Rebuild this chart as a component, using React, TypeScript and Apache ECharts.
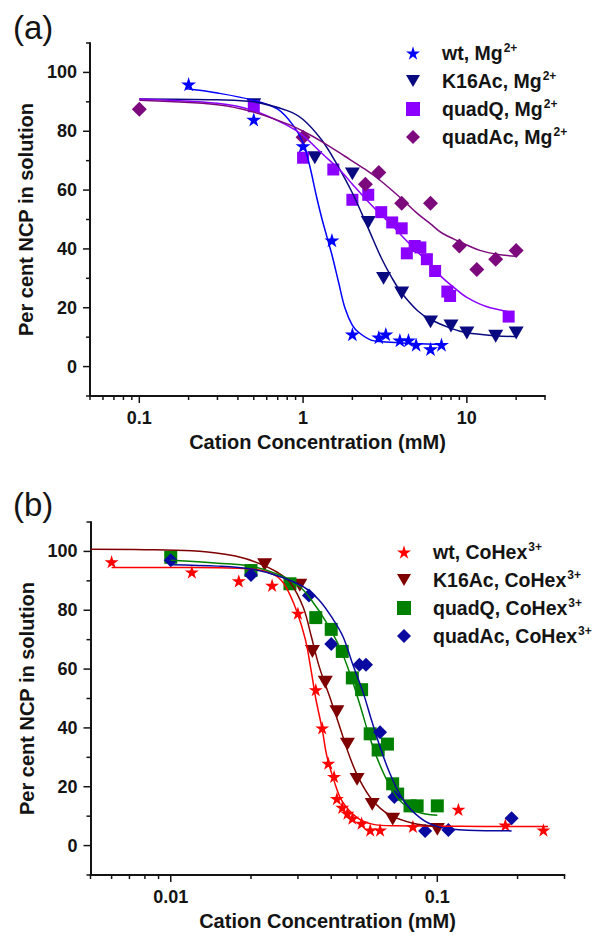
import React, { useEffect, useRef } from 'react';
import * as echarts from 'echarts';

// ---------- Panel (a): Mg2+ ----------
const wtMgX = [0.2, 0.5, 1.0, 1.5, 2.0, 2.9, 3.2, 3.9, 4.4, 4.9, 6.0, 7.0];
const wtMgY = [96, 84, 75, 43, 11, 10, 11, 9, 9, 7.5, 6, 7.5];
const k16MgX = [0.5, 1.18, 2.0, 2.5, 3.1, 4.0, 6.0, 8.0, 10, 15, 20];
const k16MgY = [89, 71, 65.5, 49, 30, 25, 15.2, 13.8, 11.4, 10.3, 11.4];
const quadQMgX = [0.5, 1.0, 1.53, 2.0, 2.5, 3.0, 3.5, 4.0, 4.3, 4.8, 5.2, 5.7, 6.4, 7.6, 7.9, 18];
const quadQMgY = [88.5, 71, 67, 56.7, 58.4, 52.5, 49, 47, 38.5, 41, 40.5, 36.5, 32.5, 25.5, 24, 17];
const quadAcMgX = [0.1, 1.0, 2.4, 2.9, 4.0, 6.0, 9.0, 11.5, 15, 20];
const quadAcMgY = [87.5, 78, 62, 66, 55.5, 55.5, 41, 33, 36.5, 39.5];

const wtMgCurveX = [0.19, 0.3, 0.5, 0.7, 0.87, 1.0, 1.1, 1.2, 1.3, 1.4, 1.5, 1.65, 1.8, 2.0, 2.2, 2.6, 3.0, 4.0, 5.0, 7.0];
const wtMgCurveY = [94.5, 93, 90.5, 87.5, 82, 76, 68, 58.5, 50.5, 44, 38, 28.5, 20, 14, 11.5, 9, 8.5, 8, 7.8, 7.5];
const k16MgCurveX = [0.1, 0.3, 0.5, 0.8, 1.0, 1.3, 1.6, 2.0, 2.5, 3.0, 3.5, 4.0, 5.0, 6.0, 8.0, 10, 15, 20];
const k16MgCurveY = [91, 90.7, 90, 87, 84, 77, 69, 59, 47, 37, 30, 25, 19, 16, 13, 11.5, 10.5, 10.2];
const quadQMgCurveX = [0.1, 0.3, 0.5, 0.8, 1.0, 1.3, 1.7, 2.0, 2.5, 3.0, 3.5, 4.0, 5.0, 6.0, 7.0, 8.5, 10, 13, 18.5];
const quadQMgCurveY = [91, 89.5, 87, 82, 78.5, 72.5, 66.5, 62, 56, 51.5, 48, 44.5, 39, 34.5, 30.5, 26.5, 23.5, 20.5, 18.5];
const quadAcMgCurveX = [0.1, 0.3, 0.5, 0.8, 1.0, 1.3, 1.8, 2.4, 3.0, 4.0, 5.0, 6.0, 7.0, 9.0, 12, 16, 20];
const quadAcMgCurveY = [90.5, 89, 86.5, 82.5, 80, 76.5, 71.5, 67, 63, 57, 52, 48.5, 45.5, 42.5, 39.5, 38, 37.5];

// ---------- Panel (b): CoHex3+ ----------
const wtCoX = [0.006, 0.012, 0.018, 0.024, 0.030, 0.035, 0.037, 0.039, 0.041, 0.042, 0.044, 0.046, 0.048, 0.052, 0.056, 0.061, 0.081, 0.12, 0.18, 0.25];
const wtCoY = [96.5, 93, 90, 88.5, 79, 53, 40, 28, 23.5, 16, 13, 11, 9.3, 7.6, 5.3, 5.3, 6.5, 12.3, 7, 5.3];
const k16CoX = [0.0225, 0.0305, 0.034, 0.038, 0.042, 0.046, 0.050, 0.057, 0.068, 0.10];
const k16CoY = [95.5, 88.5, 66, 55.5, 45.5, 34.5, 22.5, 14, 9, 5.5];
const quadQCoX = [0.01, 0.02, 0.028, 0.035, 0.040, 0.044, 0.048, 0.052, 0.056, 0.060, 0.065, 0.068, 0.071, 0.079, 0.084, 0.10];
const quadQCoY = [98, 93.5, 89, 77.5, 73.5, 66, 57, 53, 38, 32.5, 34.5, 21, 17.5, 13.5, 13.5, 13.5];
const quadAcCoX = [0.01, 0.02, 0.033, 0.040, 0.051, 0.054, 0.061, 0.069, 0.09, 0.11, 0.19];
const quadAcCoY = [97, 92, 85, 68.5, 61.5, 61.5, 38.5, 16.5, 5, 5.3, 9.3];

const wtCoCurveX = [0.006, 0.012, 0.018, 0.022, 0.025, 0.027, 0.0296, 0.032, 0.0337, 0.035, 0.037, 0.0385, 0.041, 0.044, 0.050, 0.057, 0.07, 0.1, 0.15, 0.26];
const wtCoCurveY = [94.5, 94.5, 94.3, 93.5, 91.5, 88, 80, 70, 59, 50, 39.5, 30.5, 22, 15, 9.5, 7.3, 6.7, 6.6, 6.5, 6.5];
const k16CoCurveX = [0.005, 0.008, 0.012, 0.016, 0.019, 0.022, 0.025, 0.028, 0.0314, 0.0337, 0.036, 0.0395, 0.043, 0.047, 0.051, 0.057, 0.066, 0.081, 0.1];
const k16CoCurveY = [100.7, 100.6, 100.2, 99, 97.6, 95.5, 93, 89.5, 81, 71, 61, 50.5, 40.5, 30, 22.5, 15.5, 10.5, 7.6, 6.5];
const quadQCoCurveX = [0.01, 0.015, 0.02, 0.0256, 0.0305, 0.034, 0.038, 0.043, 0.047, 0.051, 0.055, 0.059, 0.0645, 0.072, 0.084, 0.1];
const quadQCoCurveY = [97, 96, 95, 92, 88, 83, 76.5, 67.5, 58.5, 48.5, 38.5, 30.5, 22.5, 15.5, 11.5, 10.3];
const quadAcCoCurveX = [0.01, 0.015, 0.02, 0.0256, 0.0314, 0.036, 0.0406, 0.0443, 0.048, 0.0527, 0.0567, 0.061, 0.0664, 0.0745, 0.086, 0.1, 0.13, 0.19];
const quadAcCoCurveY = [95.5, 95, 94, 91.5, 88, 83.5, 77, 71, 62, 52, 42.5, 33.5, 24.5, 15.5, 9.5, 6.5, 5.2, 5];

// ---------- Axis ticks ----------
const xMajorA = [0.1, 1, 10];
const xMinorA = [0.05, 0.06, 0.07, 0.08, 0.09, 0.2, 0.3, 0.4, 0.5, 0.6, 0.7, 0.8, 0.9, 2, 3, 4, 5, 6, 7, 8, 9, 20, 30];
const xMajorB = [0.01, 0.1];
const xMinorB = [0.005, 0.006, 0.007, 0.008, 0.009, 0.02, 0.03, 0.04, 0.05, 0.06, 0.07, 0.08, 0.09, 0.2, 0.3];
const yMajor = [0, 20, 40, 60, 80, 100];
const yMinor = [-10, 10, 30, 50, 70, 90, 110];

const legendNamesA = ['wt, Mg2+', 'K16Ac, Mg2+', 'quadQ, Mg2+', 'quadAc, Mg2+'];
const legendNamesB = ['wt, CoHex3+', 'K16Ac, CoHex3+', 'quadQ, CoHex3+', 'quadAc, CoHex3+'];

const STAR = 'path://M50,0 L61,35 L98,35 L68,57 L79,91 L50,70 L21,91 L32,57 L2,35 L39,35 Z';
const TRI_DOWN = 'path://M0,0 L100,0 L50,86 Z';
const TXT = '#141414';
const FONT = '"Liberation Sans", Arial, Helvetica, sans-serif';

const zip = (xs: number[], ys: number[]) => xs.map((x, i) => [x, ys[i]]);

function scatter(name: string, idx: number, xs: number[], ys: number[], symbol: string, size: number | number[], color: string) {
  return {
    name,
    type: 'scatter',
    xAxisIndex: idx,
    yAxisIndex: idx,
    data: zip(xs, ys),
    symbol,
    symbolSize: size,
    symbolKeepAspect: true,
    itemStyle: { color, opacity: 1 },
    z: 3,
  };
}

function curve(idx: number, xs: number[], ys: number[], color: string) {
  return {
    type: 'line',
    xAxisIndex: idx,
    yAxisIndex: idx,
    data: zip(xs, ys),
    smooth: 0.35,
    showSymbol: false,
    symbol: 'none',
    lineStyle: { color, width: 1.5 },
    silent: true,
    z: 4,
  };
}

function ticks(idx: number, xMaj: number[], xMin: number[], xLo: number) {
  const data = [
    ...xMaj.map((v) => [v, -10, 0, 1]),
    ...xMin.map((v) => [v, -10, 0, 0]),
    ...yMajor.map((v) => [xLo, v, 1, 1]),
    ...yMinor.map((v) => [xLo, v, 1, 0]),
  ];
  return {
    type: 'custom',
    xAxisIndex: idx,
    yAxisIndex: idx,
    silent: true,
    clip: false,
    z: 6,
    data,
    encode: { x: 0, y: 1 },
    renderItem: (_p: any, api: any) => {
      const pt = api.coord([api.value(0), api.value(1)]);
      const isY = api.value(2) === 1;
      const len = api.value(3) === 1 ? 7 : 4;
      return {
        type: 'line',
        shape: isY
          ? { x1: pt[0] - len, y1: pt[1], x2: pt[0], y2: pt[1] }
          : { x1: pt[0], y1: pt[1], x2: pt[0], y2: pt[1] + len },
        style: { stroke: TXT, lineWidth: 1.5 },
      };
    },
  };
}

function legendFmt(name: string) {
  const m = name.match(/^(.*?)([0-9]\+)$/);
  if (!m) return '{b|' + name + '}';
  return '{b|' + m[1] + '}{s|' + m[2] + '}';
}

function xAxisCfg(idx: number, min: number, max: number) {
  return {
    type: 'log',
    gridIndex: idx,
    min,
    max,
    logBase: 10,
    name: 'Cation Concentration (mM)',
    nameLocation: 'middle',
    nameGap: 36,
    nameTextStyle: { fontSize: 20, fontWeight: 'bold', color: TXT, fontFamily: FONT },
    axisLine: { show: true, onZero: false, lineStyle: { color: TXT, width: 2 } },
    axisTick: { show: false },
    minorTick: { show: false },
    splitLine: { show: false },
    minorSplitLine: { show: false },
    axisLabel: {
      margin: 13,
      fontSize: 18,
      fontWeight: 'bold',
      color: TXT,
      fontFamily: FONT,
      showMinLabel: true,
      showMaxLabel: true,
      formatter: (v: number) => {
        const l = Math.log10(v);
        if (Math.abs(l - Math.round(l)) > 1e-6) return '';
        return String(Number(Math.pow(10, Math.round(l)).toPrecision(6)));
      },
    },
  };
}

function yAxisCfg(idx: number) {
  return {
    type: 'value',
    gridIndex: idx,
    min: -10,
    max: 110,
    interval: 10,
    name: 'Per cent NCP in solution',
    nameLocation: 'middle',
    nameGap: 50,
    nameTextStyle: { fontSize: 20, fontWeight: 'bold', color: TXT, fontFamily: FONT },
    axisLine: { show: true, onZero: false, lineStyle: { color: TXT, width: 2 } },
    axisTick: { show: false },
    splitLine: { show: false },
    axisLabel: {
      margin: 13,
      fontSize: 18,
      fontWeight: 'bold',
      color: TXT,
      fontFamily: FONT,
      formatter: (v: number) => (v >= 0 && v <= 100 && Math.round(v) % 20 === 0 ? String(Math.round(v)) : ''),
    },
  };
}

function legendCfg(names: string[], left: number, top: number, pad: number) {
  return {
    data: names,
    orient: 'vertical',
    left,
    top,
    padding: 0,
    itemGap: 7,
    itemWidth: 14,
    itemHeight: 14,
    selectedMode: false,
    formatter: legendFmt,
    textStyle: {
      color: TXT,
      fontFamily: FONT,
      rich: {
        b: { fontSize: 19.5, fontWeight: 'bold', color: TXT, fontFamily: FONT, lineHeight: 22, padding: [0, 0, 0, pad] },
        s: { fontSize: 12, fontWeight: 'bold', color: TXT, fontFamily: FONT, verticalAlign: 'top', lineHeight: 22, padding: [0, 0, 6, 1] },
      },
    },
  };
}

export default function App() {
  const ref = useRef<HTMLDivElement>(null);
  useEffect(() => {
    document.body.style.margin = '0';
    const chart = echarts.init(ref.current!, null, { renderer: 'svg' });
    const option: any = {
      animation: false,
      backgroundColor: '#ffffff',
      textStyle: { fontFamily: FONT },
      grid: [
        { left: 90, top: 43, width: 455, height: 353 },
        { left: 90.5, top: 522, width: 474, height: 353 },
      ],
      xAxis: [xAxisCfg(0, 0.05, 30), xAxisCfg(1, 0.005, 0.3)],
      yAxis: [yAxisCfg(0), yAxisCfg(1)],
      legend: [legendCfg(legendNamesA, 406, 42, 17), legendCfg(legendNamesB, 397, 541, 17)],
      graphic: [
        { type: 'text', left: 13, top: 11, style: { text: '(a)', fontSize: 33, fontFamily: FONT, fill: TXT } },
        { type: 'text', left: 13, top: 488, style: { text: '(b)', fontSize: 33, fontFamily: FONT, fill: TXT } },
      ],
      series: [
        scatter(legendNamesA[0], 0, wtMgX, wtMgY, STAR, 15, '#0000ff'),
        scatter(legendNamesA[1], 0, k16MgX, k16MgY, TRI_DOWN, 15, '#0a0a80'),
        scatter(legendNamesA[2], 0, quadQMgX, quadQMgY, 'rect', 12, '#8c00ff'),
        scatter(legendNamesA[3], 0, quadAcMgX, quadAcMgY, 'diamond', 15, '#7d0a7d'),
        curve(0, wtMgCurveX, wtMgCurveY, '#0000ff'),
        curve(0, k16MgCurveX, k16MgCurveY, '#0a0a80'),
        curve(0, quadQMgCurveX, quadQMgCurveY, '#8c00ff'),
        curve(0, quadAcMgCurveX, quadAcMgCurveY, '#7d0a7d'),
        scatter(legendNamesB[0], 1, wtCoX, wtCoY, STAR, 14, '#ff0000'),
        scatter(legendNamesB[1], 1, k16CoX, k16CoY, TRI_DOWN, 15, '#7f0000'),
        scatter(legendNamesB[2], 1, quadQCoX, quadQCoY, 'rect', 13, '#008000'),
        scatter(legendNamesB[3], 1, quadAcCoX, quadAcCoY, 'diamond', 14, '#0a0aa0'),
        curve(1, wtCoCurveX, wtCoCurveY, '#ff0000'),
        curve(1, k16CoCurveX, k16CoCurveY, '#7f0000'),
        curve(1, quadQCoCurveX, quadQCoCurveY, '#008000'),
        curve(1, quadAcCoCurveX, quadAcCoCurveY, '#0a0aa0'),
        ticks(0, xMajorA, xMinorA, 0.05),
        ticks(1, xMajorB, xMinorB, 0.005),
      ],
    };
    chart.setOption(option);
    return () => chart.dispose();
  }, []);
  return <div ref={ref} style={{ width: 603, height: 936 }} />;
}
